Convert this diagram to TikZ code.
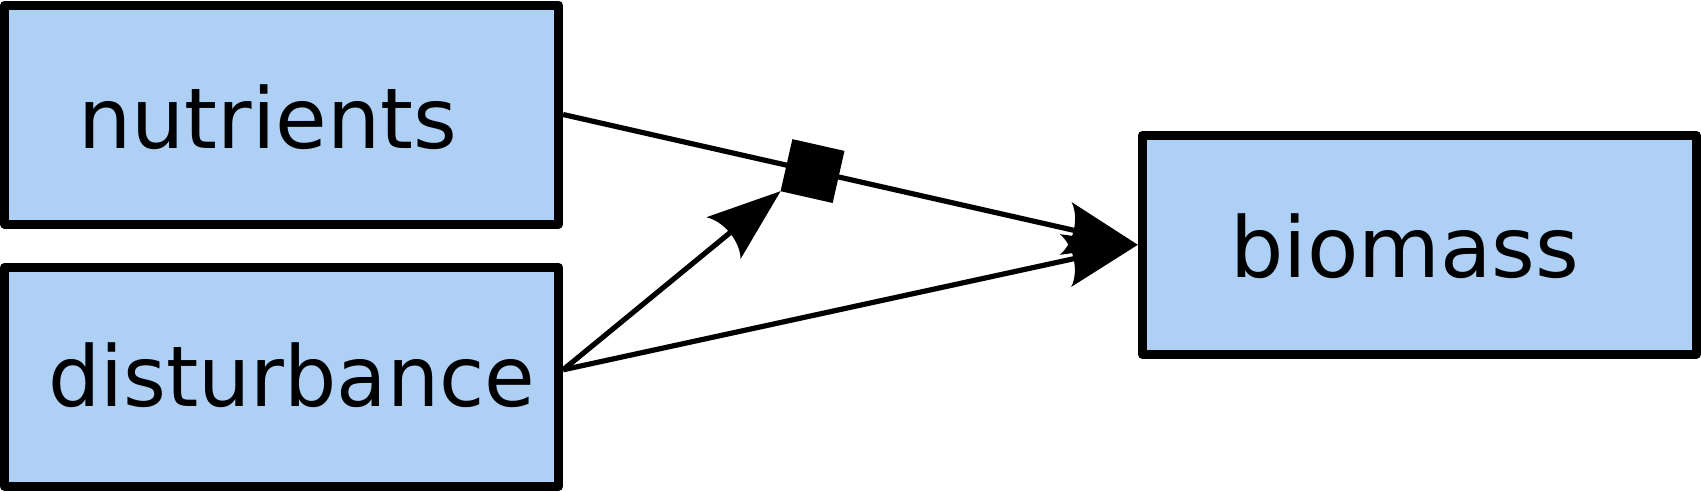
\documentclass[tikz,border=0pt]{standalone}
\usepackage{fontspec}
\setmainfont{DejaVu Sans}
\usetikzlibrary{arrows.meta,calc}
\definecolor{boxblue}{RGB}{174,208,245}

\pgfdeclarearrow{
  name = BackStealth,
  parameters = {\the\pgfarrowlength,\the\pgfarrowwidth},
  setup code = {
    \pgfarrowssettipend{0pt}
    \pgfarrowssetbackend{-\pgfarrowlength}
    \pgfarrowssetlineend{-.8\pgfarrowlength}
    \pgfarrowssavethe\pgfarrowlength
    \pgfarrowssavethe\pgfarrowwidth
  },
  drawing code = {
    \pgfpathmoveto{\pgfqpoint{0pt}{0pt}}
    \pgfpathlineto{\pgfqpoint{-\pgfarrowlength}{.5\pgfarrowwidth}}
    \pgfpathcurveto{\pgfqpoint{-.85\pgfarrowlength}{.25\pgfarrowwidth}}{\pgfqpoint{-.85\pgfarrowlength}{-.25\pgfarrowwidth}}{\pgfqpoint{-\pgfarrowlength}{-.5\pgfarrowwidth}}
    \pgfpathclose
    \pgfusepathqfill
  },
  defaults = {length = 74pt, width = 54pt}
}

\tikzset{
  box/.style={draw=black, fill=boxblue, line width=9pt, line join=round,
    minimum width=554pt, minimum height=219pt, inner sep=0pt},
  lbl/.style={font=\fontsize{84pt}{100pt}\selectfont, inner sep=0pt, anchor=base},
  narrowlbl/.style={lbl, font=\fontsize{84pt}{100pt}\selectfont\addfontfeatures{FakeStretch=0.98}},
  conn/.style={line width=5.2pt, -{BackStealth[]}},
  modsq/.style={fill=black, minimum size=53.4pt, inner sep=0pt, outer sep=0pt},
}

\begin{document}
\begin{tikzpicture}[x=1pt,y=-1pt]
\useasboundingbox (0,0) rectangle (1701,491);
\node[box] (nutrients) at (281.6,114.5) {};
\node[box] (disturbance) at (281.6,376.8) {};
\node[box] (biomass) at (1419.3,244.8) {};
\node[lbl] (tn) at ($(nutrients.center)+(-14,33.5)$) {nutrients};
\node[narrowlbl] (td) at ($(disturbance.center)+(10,29.5)$) {disturbance};
\node[lbl] (tb) at ($(biomass.center)+(-14.5,32.2)$) {biomass};
\coordinate (dapex) at ($(disturbance.east)+(0,-7)$);
\draw[conn] (nutrients.east) -- node[modsq, sloped, pos=0.434] (mod) {} (biomass.west);
\draw[conn] (dapex) -- (mod.south west);
\draw[conn] (dapex) -- (biomass.west);
\end{tikzpicture}
\end{document}
